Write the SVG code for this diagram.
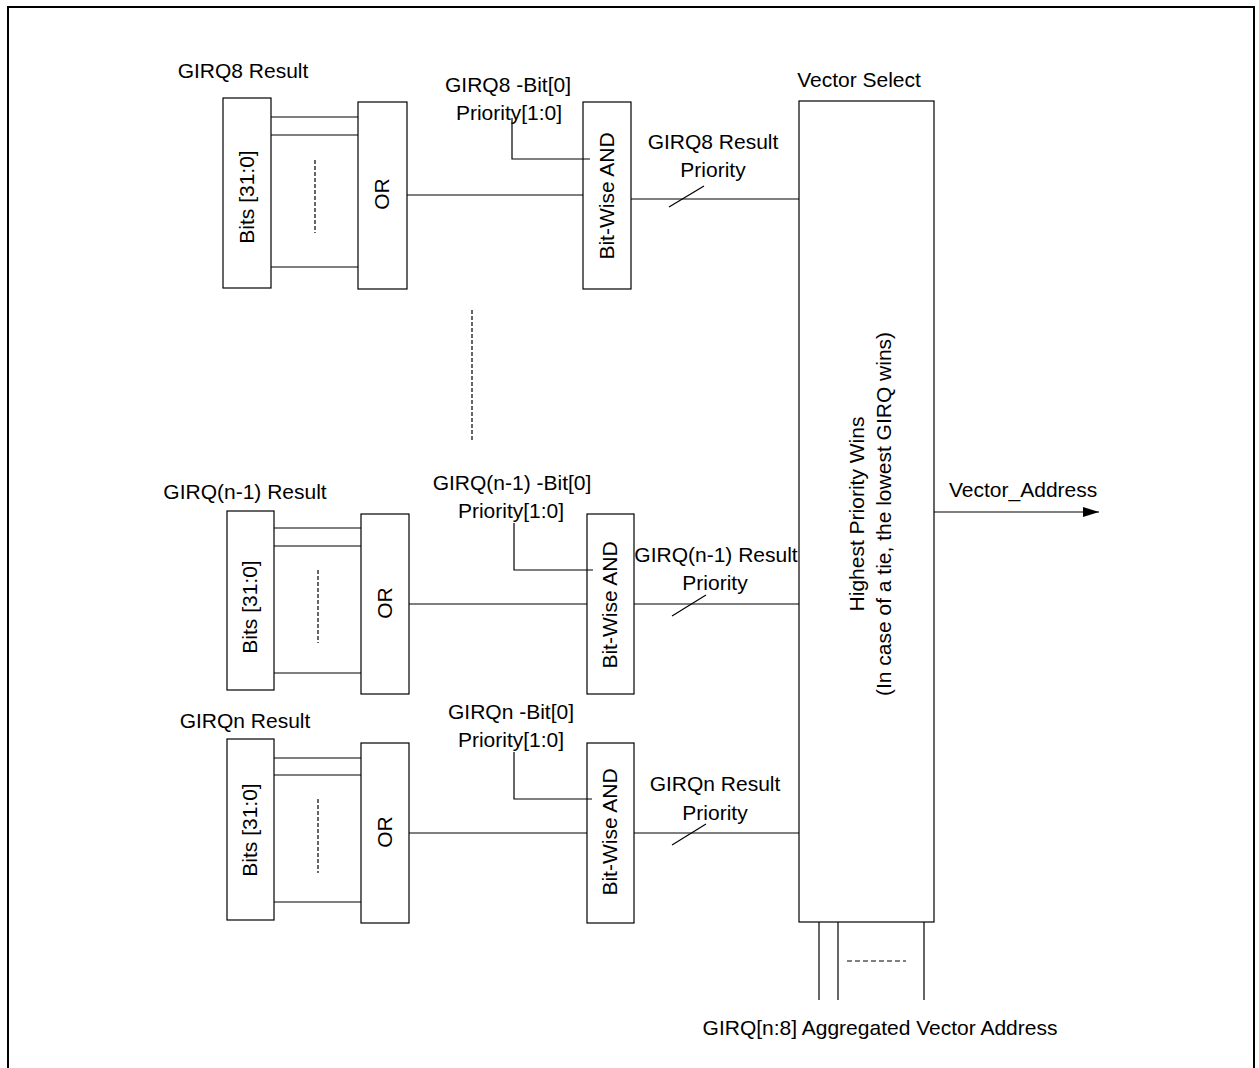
<svg xmlns="http://www.w3.org/2000/svg" width="1259" height="1068" viewBox="0 0 1259 1068">
<style>
  text { font-family: "Liberation Sans", Arial, sans-serif; font-size: 21px; fill: #000; }
  .c { text-anchor: middle; }
  .box { fill: #fff; stroke: #000; stroke-width: 1.2; }
  .ln { fill: none; stroke: #000; stroke-width: 1.2; }
  .dash { fill: none; stroke: #000; stroke-width: 1.2; stroke-dasharray: 4 2; }
</style>
<defs>
  <marker id="arr" markerWidth="16" markerHeight="10" refX="16" refY="5" orient="auto" markerUnits="userSpaceOnUse">
    <polygon points="0,0 16,5 0,10" fill="#000"/>
  </marker>
</defs>
<rect width="1259" height="1068" fill="#fff"/>
<path d="M8,1068 V7 H1254 V1068" fill="none" stroke="#000" stroke-width="2"/>

<!-- Row 1 : GIRQ8 -->
<g id="girq8-bits">
  <text class="c" x="243" y="78">GIRQ8 Result</text>
  <rect class="box" x="223" y="98" width="48" height="190"/>
  <text class="c" x="247" y="204" transform="rotate(-90 247 197)">Bits [31:0]</text>
</g>
<g id="girq8-or">
  <rect class="box" x="358" y="102" width="49" height="187"/>
  <text class="c" x="382" y="201" transform="rotate(-90 382 194)">OR</text>
</g>
<g id="girq8-and">
  <text class="c" x="508" y="92">GIRQ8 -Bit[0]</text>
  <text class="c" x="509" y="120">Priority[1:0]</text>
  <rect class="box" x="583" y="102" width="48" height="187"/>
  <text class="c" x="607" y="203" transform="rotate(-90 607 196)">Bit-Wise AND</text>
</g>

<!-- Row 2 : GIRQ(n-1) -->
<g id="girqn1-bits">
  <text class="c" x="245" y="499">GIRQ(n-1) Result</text>
  <rect class="box" x="227" y="511" width="47" height="179"/>
  <text class="c" x="250" y="614" transform="rotate(-90 250 607)">Bits [31:0]</text>
</g>
<g id="girqn1-or">
  <rect class="box" x="361" y="514" width="48" height="180"/>
  <text class="c" x="385" y="610" transform="rotate(-90 385 603)">OR</text>
</g>
<g id="girqn1-and">
  <text class="c" x="512" y="490">GIRQ(n-1) -Bit[0]</text>
  <text class="c" x="511" y="518">Priority[1:0]</text>
  <rect class="box" x="587" y="514" width="47" height="180"/>
  <text class="c" x="610" y="612" transform="rotate(-90 610 605)">Bit-Wise AND</text>
</g>

<!-- Row 3 : GIRQn -->
<g id="girqn-bits">
  <text class="c" x="245" y="728">GIRQn Result</text>
  <rect class="box" x="227" y="739" width="47" height="181"/>
  <text class="c" x="250" y="837" transform="rotate(-90 250 830)">Bits [31:0]</text>
</g>
<g id="girqn-or">
  <rect class="box" x="361" y="743" width="48" height="180"/>
  <text class="c" x="385" y="839" transform="rotate(-90 385 832)">OR</text>
</g>
<g id="girqn-and">
  <text class="c" x="511" y="719">GIRQn -Bit[0]</text>
  <text class="c" x="511" y="747">Priority[1:0]</text>
  <rect class="box" x="587" y="743" width="47" height="180"/>
  <text class="c" x="610" y="839" transform="rotate(-90 610 832)">Bit-Wise AND</text>
</g>

<!-- Vector select -->
<g id="vector-select">
  <text class="c" x="859" y="87">Vector Select</text>
  <rect class="box" x="799" y="101" width="135" height="821"/>
  <text class="c" x="864" y="514" transform="rotate(-90 864 514)">Highest Priority Wins</text>
  <text class="c" x="891" y="514" transform="rotate(-90 891 514)">(In case of a tie, the lowest GIRQ wins)</text>
</g>

<g id="connectors">
  <!-- row 1 -->
  <line class="ln" x1="271" y1="117" x2="358" y2="117"/>
  <line class="ln" x1="271" y1="135" x2="358" y2="135"/>
  <line class="ln" x1="271" y1="267" x2="358" y2="267"/>
  <line class="dash" x1="315" y1="160" x2="315" y2="233"/>
  <line class="ln" x1="407" y1="195" x2="583" y2="195"/>
  <polyline class="ln" points="512,118 512,159 590,159"/>
  <line class="ln" x1="631" y1="199" x2="799" y2="199"/>
  <line class="ln" x1="669" y1="207" x2="704" y2="186"/>
  <text class="c" x="713" y="149">GIRQ8 Result</text>
  <text class="c" x="713" y="177">Priority</text>

  <!-- between rows -->
  <line class="dash" x1="472" y1="310" x2="472" y2="440"/>

  <!-- row 2 -->
  <line class="ln" x1="274" y1="528" x2="361" y2="528"/>
  <line class="ln" x1="274" y1="546" x2="361" y2="546"/>
  <line class="ln" x1="274" y1="673" x2="361" y2="673"/>
  <line class="dash" x1="318" y1="570" x2="318" y2="643"/>
  <line class="ln" x1="409" y1="604" x2="587" y2="604"/>
  <polyline class="ln" points="514,523 514,570 593,570"/>
  <line class="ln" x1="634" y1="604" x2="799" y2="604"/>
  <line class="ln" x1="672" y1="616" x2="706" y2="595"/>
  <text class="c" x="716" y="562">GIRQ(n-1) Result</text>
  <text class="c" x="715" y="590">Priority</text>

  <!-- row 3 -->
  <line class="ln" x1="274" y1="758" x2="361" y2="758"/>
  <line class="ln" x1="274" y1="775" x2="361" y2="775"/>
  <line class="ln" x1="274" y1="902" x2="361" y2="902"/>
  <line class="dash" x1="318" y1="799" x2="318" y2="873"/>
  <line class="ln" x1="409" y1="833" x2="587" y2="833"/>
  <polyline class="ln" points="514,752 514,799 592,799"/>
  <line class="ln" x1="634" y1="833" x2="799" y2="833"/>
  <line class="ln" x1="672" y1="845" x2="706" y2="824"/>
  <text class="c" x="715" y="791">GIRQn Result</text>
  <text class="c" x="715" y="820">Priority</text>

  <!-- output -->
  <line class="ln" x1="934" y1="512" x2="1099" y2="512" marker-end="url(#arr)"/>
  <text x="949" y="497">Vector_Address</text>

  <!-- aggregated -->
  <line class="ln" x1="819" y1="922" x2="819" y2="1000"/>
  <line class="ln" x1="838" y1="922" x2="838" y2="1000"/>
  <line class="ln" x1="924" y1="922" x2="924" y2="1000"/>
  <line class="dash" x1="847" y1="961" x2="906" y2="961" style="stroke-dasharray:5 3"/>
  <text class="c" x="880" y="1035">GIRQ[n:8] Aggregated Vector Address</text>
</g>
</svg>
